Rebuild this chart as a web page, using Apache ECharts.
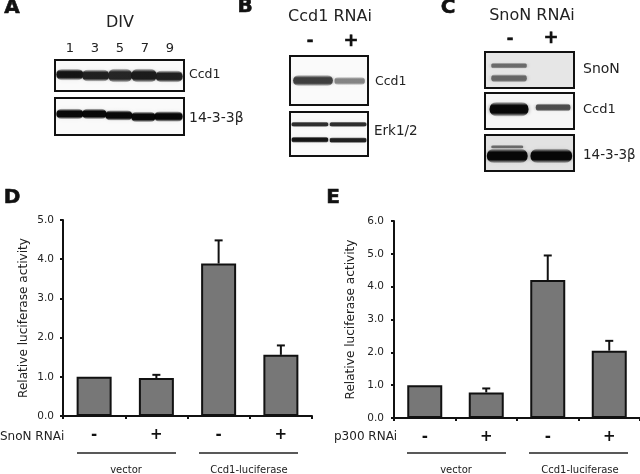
<!DOCTYPE html>
<html><head><meta charset="utf-8">
<style>html,body{margin:0;padding:0;background:#fff}#c{width:640px;height:474px}</style>
<script src="https://cdn.jsdelivr.net/npm/echarts@6/dist/echarts.min.js"></script>
</head><body><div id="c"></div>
<script>
const signs = ['-', '+', '-', '+'];
const snonValues = [1.0, 0.97, 3.89, 1.56];
const snonTops = [null, 1.05, 4.48, 1.8];
const p300Values = [1.0, 0.78, 4.2, 2.05];
const p300Tops = [null, 0.9, 4.95, 2.35];
const yAxisD = {max: 5, labelGap: 9, nameGap: 33};
const yAxisE = {max: 6, labelGap: 10, nameGap: 37};
const divLabels = ['1', '3', '5', '7', '9'];
const groupLabels = ['vector', 'Ccd1-luciferase'];
// blot bands: [left, right, height in panel (0 bottom..1 top), thickness, darkness]
const blotACcd1 = [[.01,.22,.53,.36,.95],[.21,.42,.50,.38,.9],[.41,.60,.50,.44,.88],[.59,.79,.50,.44,.92],[.78,.99,.47,.38,.9]];
const blotA1433 = [[.01,.22,.57,.28,1],[.21,.40,.57,.28,1],[.39,.60,.53,.28,1],[.59,.78,.49,.28,1],[.77,.99,.50,.28,1]];
const blotBCcd1 = [[.04,.55,.50,.22,.78],[.57,.96,.49,.16,.5]];
const blotBErk = [[.02,.49,.72,.12,.85],[.51,.98,.72,.12,.85],[.02,.49,.37,.14,.95],[.51,.98,.36,.13,.9]];
const blotCSnoN = [[.07,.47,.62,.16,.6],[.07,.47,.27,.22,.62]];
const blotCCcd1 = [[.05,.49,.55,.40,1],[.57,.96,.60,.22,.72]];
const blotC1433 = [[.07,.43,.67,.10,.6],[.02,.48,.42,.40,1],[.51,.98,.42,.40,1]];

const FONT = '"DejaVu Sans", Verdana, sans-serif';
const INK = '#222';
const grids = [], xAxes = [], yAxes = [], series = [];

function blot(rect, bands, bg) {
  const i = grids.length;
  grids.push({left: rect[0], top: rect[1], width: rect[2], height: rect[3], show: true,
    backgroundColor: bg || '#fafafa', borderColor: '#111', borderWidth: 2, containLabel: false});
  xAxes.push({gridIndex: i, type: 'value', min: 0, max: 1, show: false});
  yAxes.push({gridIndex: i, type: 'value', min: 0, max: 1, show: false});
  series.push({type: 'custom', xAxisIndex: i, yAxisIndex: i, data: bands, silent: true,
    clip: true, encode: {x: [0, 1], y: 2},
    renderItem(params, api) {
      const l = api.coord([api.value(0), api.value(2)]);
      const r = api.coord([api.value(1), api.value(2)]);
      const th = api.size([0, api.value(3)])[1];
      const g = Math.round(255 * (1 - api.value(4)));
      const c = a => `rgba(${g},${g},${g},${a})`;
      return {type: 'rect',
        shape: {x: l[0], y: l[1] - th / 2, width: r[0] - l[0], height: th, r: th / 2},
        style: {shadowBlur: 4, shadowColor: c(.45),
          fill: {type: 'linear', x: 0, y: 0, x2: 0, y2: 1, colorStops: [
          {offset: 0, color: c(.1)}, {offset: .25, color: c(.95)},
          {offset: .75, color: c(.95)}, {offset: 1, color: c(.1)}]}}};
    }});
}

function barChart(rect, values, tops, axis) {
  const i = grids.length;
  grids.push({left: rect[0], top: rect[1], width: rect[2], height: rect[3], containLabel: false});
  xAxes.push({gridIndex: i, type: 'category', data: signs,
    axisLine: {lineStyle: {color: '#111', width: 2}},
    axisTick: {show: true, inside: false, length: 3, lineStyle: {color: '#111', width: 2}},
    axisLabel: {color: '#111', fontFamily: FONT, fontSize: 15, fontWeight: 'bold', margin: 12},
    splitLine: {show: false}});
  yAxes.push({gridIndex: i, type: 'value', min: 0, max: axis.max, interval: 1,
    axisLine: {show: true, lineStyle: {color: '#111', width: 2}},
    axisTick: {show: true, length: 3, lineStyle: {color: '#111', width: 2}},
    axisLabel: {color: INK, fontFamily: FONT, fontSize: 10.5, margin: axis.labelGap, formatter: v => v.toFixed(1)},
    splitLine: {show: false},
    name: 'Relative luciferase activity', nameLocation: 'middle', nameRotate: 90, nameGap: axis.nameGap,
    nameTextStyle: {color: INK, fontFamily: FONT, fontSize: 12.1}});
  series.push({type: 'bar', xAxisIndex: i, yAxisIndex: i, data: values, barWidth: 35, silent: true,
    itemStyle: {color: '#777', borderColor: '#111', borderWidth: 2}});
  series.push({type: 'custom', xAxisIndex: i, yAxisIndex: i, silent: true, z: 1,
    data: tops.map((t, k) => [k, values[k], t]).filter(d => d[2] !== null),
    encode: {x: 0, y: [1, 2]},
    renderItem(params, api) {
      const a = api.coord([api.value(0), api.value(1)]);
      const b = api.coord([api.value(0), api.value(2)]);
      const st = {stroke: '#111', lineWidth: 2};
      return {type: 'group', children: [
        {type: 'line', shape: {x1: a[0], y1: a[1], x2: b[0], y2: b[1]}, style: st},
        {type: 'line', shape: {x1: b[0] - 4, y1: b[1], x2: b[0] + 4, y2: b[1]}, style: st}]};
    }});
}

blot([55, 60, 129, 31], blotACcd1);
blot([55, 98, 129, 37], blotA1433);
blot([290, 56, 78, 49], blotBCcd1);
blot([290, 112, 78, 44], blotBErk);
blot([485, 52, 89, 36], blotCSnoN, '#e6e6e6');
blot([485, 93, 89, 36], blotCCcd1, '#f6f6f6');
blot([485, 135, 89, 36], blotC1433, '#e2e2e2');
barChart([63, 220, 249, 196], snonValues, snonTops, yAxisD);
barChart([394, 221, 246, 197], p300Values, p300Tops, yAxisE);

function txt(x, y, s, size, opt) {
  return {type: 'text', x, y, silent: true, style: Object.assign({text: s, fill: INK,
    font: `${size}px ${FONT}`, textVerticalAlign: 'middle', textAlign: 'left',
    verticalAlign: 'middle', align: 'left'}, opt || {})};
}
const mid = {align: 'center', textAlign: 'center'};
const bold = (x, y, s, size) => txt(x, y, s, size, {fill: '#111', stroke: '#111', lineWidth: .6,
  font: `bold ${size}px ${FONT}`, align: 'center', textAlign: 'center'});
const graphics = [
  bold(12, 8, 'A', 20), bold(245, 7, 'B', 20), bold(448, 8, 'C', 20),
  bold(12, 198, 'D', 20), bold(333, 198, 'E', 20),
  txt(120, 23, 'DIV', 16, mid),
  ...divLabels.map((s, k) => txt(70 + 25 * k, 49, s, 13, mid)),
  txt(189, 75, 'Ccd1', 12.5), txt(189, 118, '14-3-3β', 14),
  txt(330, 17, 'Ccd1 RNAi', 16, mid),
  bold(310, 41, '-', 16), bold(351, 41, '+', 18),
  txt(375, 82, 'Ccd1', 12.5), txt(374, 131, 'Erk1/2', 13.5),
  txt(532, 16, 'SnoN RNAi', 16, mid),
  bold(510, 39, '-', 16), bold(551, 38, '+', 18),
  txt(583, 69, 'SnoN', 14), txt(583, 110, 'Ccd1', 13), txt(583, 155, '14-3-3β', 13.5),
  txt(0, 437, 'SnoN RNAi', 12), txt(334, 437, 'p300 RNAi', 12),
  txt(126, 470, groupLabels[0], 10, mid), txt(249, 470, groupLabels[1], 10, mid),
  txt(456, 470, groupLabels[0], 10, mid), txt(580, 470, groupLabels[1], 10, mid),
  ...[[77, 176], [199, 298], [407, 506], [529, 628]].map(p => ({type: 'line', silent: true,
    shape: {x1: p[0], y1: 453, x2: p[1], y2: 453}, style: {stroke: '#222', lineWidth: 1.4}}))
];

const chart = echarts.init(document.getElementById('c'), null, {renderer: 'canvas'});
chart.setOption({animation: false, backgroundColor: '#fff', grid: grids, xAxis: xAxes, yAxis: yAxes,
  series, graphic: graphics});
</script></body></html>
